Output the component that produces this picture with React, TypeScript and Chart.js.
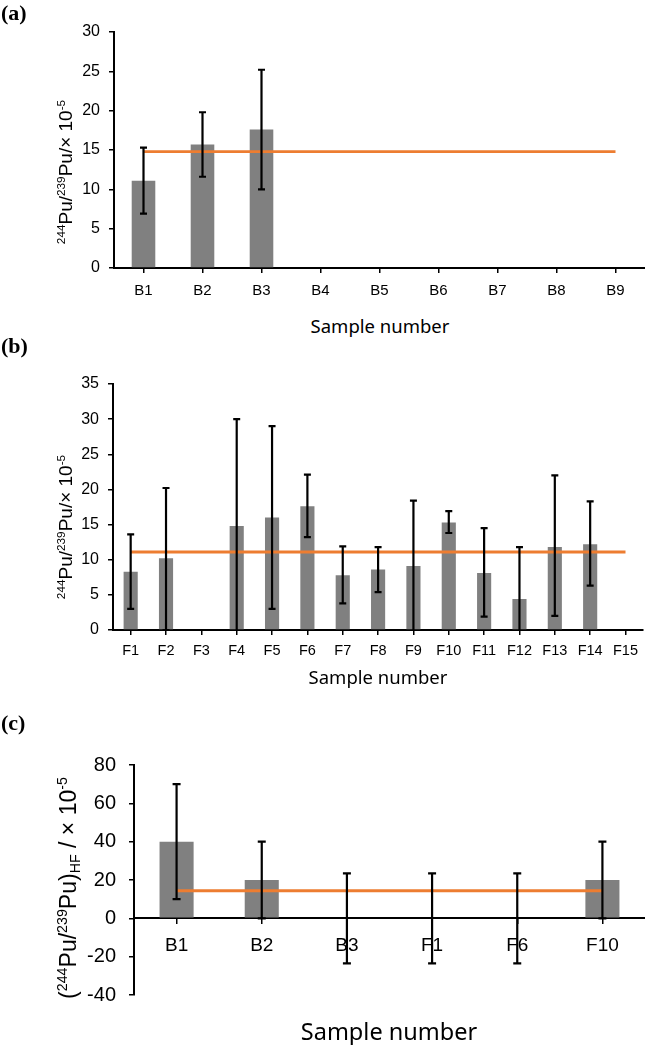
import React, { useEffect, useRef } from 'react';
import { Chart, registerables } from 'chart.js';

Chart.register(...registerables);

// ---------- Panel (a) ----------
const labelsA = ['B1', 'B2', 'B3', 'B4', 'B5', 'B6', 'B7', 'B8', 'B9'];
const valuesA = [11.1, 15.7, 17.6, null, null, null, null, null, null];
const errLowA = [6.9, 11.6, 10.0, null, null, null, null, null, null];
const errHighA = [15.3, 19.8, 25.2, null, null, null, null, null, null];
const meanA = [14.8, 14.8, 14.8, 14.8, 14.8, 14.8, 14.8, 14.8, 14.8];

// ---------- Panel (b) ----------
const labelsB = ['F1', 'F2', 'F3', 'F4', 'F5', 'F6', 'F7', 'F8', 'F9', 'F10', 'F11', 'F12', 'F13', 'F14', 'F15'];
const valuesB = [8.3, 10.2, null, 14.8, 16.0, 17.6, 7.8, 8.6, 9.1, 15.3, 8.1, 4.4, 11.8, 12.2, null];
const errLowB = [3.0, 0, null, -0.5, 3.0, 13.2, 3.8, 5.4, -0.5, 13.8, 1.9, -0.5, 2.0, 6.3, null];
const errHighB = [13.6, 20.2, null, 30.0, 29.0, 22.1, 11.9, 11.8, 18.4, 16.9, 14.5, 11.8, 22.0, 18.3, null];
const meanB = [11.1, 11.1, 11.1, 11.1, 11.1, 11.1, 11.1, 11.1, 11.1, 11.1, 11.1, 11.1, 11.1, 11.1, 11.1];

// ---------- Panel (c) ----------
const labelsC = ['B1', 'B2', 'B3', 'F1', 'F6', 'F10'];
const valuesC = [40, 20, 0, 0, 0, 20];
const errLowC = [10, 0, -23.5, -23.5, -23.5, 0];
const errHighC = [70, 40, 23.5, 23.5, 23.5, 40];
const meanC = [14.4, 14.4, 14.4, 14.4, 14.4, 14.4];

const SANS = "'Liberation Sans', Arial, sans-serif";
const TITLE_SANS = "'Noto Sans', 'Open Sans', sans-serif";
const SERIF = "'Liberation Serif', 'Times New Roman', serif";

type PanelProps = {
  top: number;
  height: number;
  labels: string[];
  values: (number | null)[];
  lows: (number | null)[];
  highs: (number | null)[];
  mean: number[];
  yMin: number;
  yMax: number;
  yStep: number;
  padTop: number;
  padBottom: number;
  yAxisWidth: number;
  xAxisHeight?: number;
  zeroAxis?: boolean;
  yTickSize: number;
  xTickSize: number;
  yTickPad: number;
  xTickPad: number;
  cap: number;
};

function makeErrorPlugin(lows: (number | null)[], highs: (number | null)[], cap: number) {
  return {
    id: 'errorBars',
    afterDatasetsDraw(chart: any) {
      const { ctx, chartArea, scales } = chart;
      const x = scales.x;
      const y = scales.y;
      ctx.save();
      ctx.beginPath();
      ctx.rect(chartArea.left, chartArea.top - 6, chartArea.right - chartArea.left, chartArea.bottom - chartArea.top + 6);
      ctx.clip();
      ctx.strokeStyle = '#000';
      ctx.lineWidth = 2.2;
      lows.forEach((lo, i) => {
        const hi = highs[i];
        if (lo == null || hi == null) return;
        const px = x.getPixelForValue(i);
        const yl = y.getPixelForValue(lo);
        const yh = y.getPixelForValue(hi);
        ctx.beginPath();
        ctx.moveTo(px, yl);
        ctx.lineTo(px, yh);
        ctx.moveTo(px - cap, yl);
        ctx.lineTo(px + cap, yl);
        ctx.moveTo(px - cap, yh);
        ctx.lineTo(px + cap, yh);
        ctx.stroke();
      });
      ctx.restore();
    },
  };
}

function Panel(p: PanelProps) {
  const ref = useRef<HTMLCanvasElement | null>(null);
  useEffect(() => {
    if (!ref.current) return;
    const xScale: any = {
      position: p.zeroAxis ? { y: 0 } : 'bottom',
      offset: true,
      grid: {
        offset: false,
        drawOnChartArea: false,
        drawTicks: true,
        tickLength: 5,
        color: '#000',
        lineWidth: 1.5,
      },
      border: { color: '#000', width: 2 },
      ticks: {
        color: '#000',
        font: { family: SANS, size: p.xTickSize },
        padding: p.xTickPad,
        maxRotation: 0,
        autoSkip: false,
      },
    };
    if (!p.zeroAxis) {
      xScale.afterFit = (s: any) => {
        s.height = p.xAxisHeight;
      };
    }
    const chart = new Chart(ref.current, {
      type: 'bar',
      data: {
        labels: p.labels,
        datasets: [
          {
            type: 'line',
            data: p.mean,
            borderColor: '#ED7D31',
            borderWidth: 2.8,
            pointRadius: 0,
            fill: false,
            order: 0,
          } as any,
          {
            type: 'bar',
            data: p.values,
            backgroundColor: '#808080',
            barPercentage: 0.4,
            categoryPercentage: 1,
            order: 1,
          } as any,
        ],
      },
      options: {
        responsive: false,
        animation: false,
        layout: { padding: { top: p.padTop, bottom: p.padBottom, left: 0, right: 0 } },
        plugins: { legend: { display: false }, tooltip: { enabled: false } },
        scales: {
          x: xScale,
          y: {
            min: p.yMin,
            max: p.yMax,
            ticks: {
              stepSize: p.yStep,
              color: '#000',
              font: { family: SANS, size: p.yTickSize },
              padding: p.yTickPad,
            },
            grid: {
              drawOnChartArea: false,
              drawTicks: true,
              tickLength: 5,
              color: '#000',
              lineWidth: 1.5,
            },
            border: { color: '#000', width: 2 },
            afterFit: (s: any) => {
              s.width = p.yAxisWidth;
            },
          } as any,
        },
      },
      plugins: [makeErrorPlugin(p.lows, p.highs, p.cap)],
    });
    return () => chart.destroy();
  }, []);
  return (
    <canvas
      ref={ref}
      width={645}
      height={p.height}
      style={{ position: 'absolute', left: 0, top: p.top, width: 645, height: p.height }}
    />
  );
}

const sup: React.CSSProperties = { fontSize: '0.62em', position: 'relative', top: '-0.62em' };
const sub: React.CSSProperties = { fontSize: '0.62em', position: 'relative', top: '0.3em' };

function Abs(props: { x: number; y: number; rotate?: boolean; style: React.CSSProperties; children: React.ReactNode }) {
  return (
    <div
      style={{
        position: 'absolute',
        left: props.x,
        top: props.y,
        transform: `translate(-50%, -50%)${props.rotate ? ' rotate(-90deg)' : ''}`,
        whiteSpace: 'nowrap',
        lineHeight: 1,
        color: '#000',
        ...props.style,
      }}
    >
      {props.children}
    </div>
  );
}

export default function App() {
  const panelLabel: React.CSSProperties = { fontFamily: SERIF, fontWeight: 'bold', fontSize: 22 };
  return (
    <div
      style={{
        position: 'absolute',
        left: 0,
        top: 0,
        width: 645,
        height: 1045,
        overflow: 'hidden',
        background: '#fff',
      }}
    >
      <Panel
        top={0}
        height={300}
        labels={labelsA}
        values={valuesA}
        lows={errLowA}
        highs={errHighA}
        mean={meanA}
        yMin={0}
        yMax={30}
        yStep={5}
        padTop={32}
        padBottom={0}
        yAxisWidth={114}
        xAxisHeight={32}
        yTickSize={16}
        xTickSize={15}
        yTickPad={9}
        xTickPad={9}
        cap={3.5}
      />
      <Panel
        top={340}
        height={325}
        labels={labelsB}
        values={valuesB}
        lows={errLowB}
        highs={errHighB}
        mean={meanB}
        yMin={0}
        yMax={35}
        yStep={5}
        padTop={44}
        padBottom={0}
        yAxisWidth={113}
        xAxisHeight={35}
        yTickSize={16}
        xTickSize={14.5}
        yTickPad={9}
        xTickPad={7}
        cap={3.5}
      />
      <Panel
        top={740}
        height={280}
        labels={labelsC}
        values={valuesC}
        lows={errLowC}
        highs={errHighC}
        mean={meanC}
        yMin={-40}
        yMax={80}
        yStep={20}
        padTop={23}
        padBottom={7}
        yAxisWidth={134}
        zeroAxis
        yTickSize={20}
        xTickSize={19}
        yTickPad={13}
        xTickPad={11}
        cap={4}
      />

      <div style={{ position: 'absolute', left: 1, top: 2, lineHeight: 1, ...panelLabel }}>(a)</div>
      <div style={{ position: 'absolute', left: 1, top: 335, lineHeight: 1, ...panelLabel }}>(b)</div>
      <div style={{ position: 'absolute', left: 1, top: 712, lineHeight: 1, ...panelLabel }}>(c)</div>

      <Abs x={65} y={172} rotate style={{ fontFamily: SANS, fontSize: 19 }}>
        <span style={sup}>244</span>Pu/<span style={sup}>239</span>Pu/× 10<span style={sup}>-5</span>
      </Abs>
      <Abs x={65} y={527} rotate style={{ fontFamily: SANS, fontSize: 19 }}>
        <span style={sup}>244</span>Pu/<span style={sup}>239</span>Pu/× 10<span style={sup}>-5</span>
      </Abs>
      <Abs x={68} y={888} rotate style={{ fontFamily: SANS, fontSize: 23 }}>
        (<span style={sup}>244</span>Pu/<span style={sup}>239</span>Pu)<span style={sub}>HF</span> / × 10
        <span style={sup}>-5</span>
      </Abs>

      <Abs x={380} y={326} style={{ fontFamily: TITLE_SANS, fontSize: 18.5 }}>
        Sample number
      </Abs>
      <Abs x={378} y={677} style={{ fontFamily: TITLE_SANS, fontSize: 18.5 }}>
        Sample number
      </Abs>
      <Abs x={389} y={1032} style={{ fontFamily: TITLE_SANS, fontSize: 23.5 }}>
        Sample number
      </Abs>
    </div>
  );
}
